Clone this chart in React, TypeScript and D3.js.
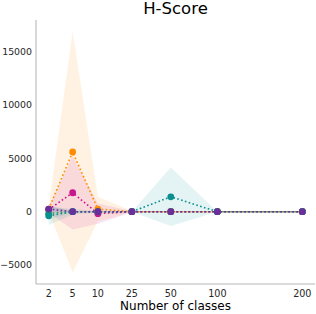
import * as d3 from "d3";

const classes = [2, 5, 10, 25, 50, 100, 200];
const classLabels = ["2", "5", "10", "25", "50", "100", "200"];
// relative spacing of the class ticks along the axis (0 = first, 1 = last)
const classSpacing = [0, 0.0945, 0.194, 0.328, 0.4815, 0.665, 1];

const seriesNames = ["orange", "magenta", "green", "teal", "purple"];
const seriesColors = ["#ff8c00", "#c8168c", "#2a9a6a", "#0b8f8f", "#6a2f9a"];

const orangeMean = [250, 5600, 250, 0, 0, 0, 0];
const orangeStd = [250, 11300, 1150, 60, 0, 0, 0];
const magentaMean = [200, 1780, -180, 0, 0, 0, 0];
const magentaStd = [300, 3450, 950, 60, 0, 0, 0];
const greenMean = [-150, 0, 0, 0, 0, 0, 0];
const greenStd = [600, 100, 50, 0, 0, 0, 0];
const tealMean = [-380, 0, 0, 0, 1400, 0, 0];
const tealStd = [870, 250, 100, 0, 2750, 0, 0];
const purpleMean = [250, 0, 0, 0, 0, 0, 0];
const purpleStd = [300, 50, 50, 0, 0, 0, 0];

const means = [orangeMean, magentaMean, greenMean, tealMean, purpleMean];
const stds = [orangeStd, magentaStd, greenStd, tealStd, purpleStd];

const yTicks = [-5000, 0, 5000, 10000, 15000];

const W = 316;
const H = 314;
const margin = { top: 20, right: 1, bottom: 30, left: 36 };

export default function App() {
  const innerW = W - margin.left - margin.right;
  const innerH = H - margin.top - margin.bottom;
  const pad = innerW * 0.05 / 1.1;
  const span = innerW - 2 * pad;

  const x = d3
    .scaleLinear()
    .domain(classes)
    .range(classSpacing.map((f) => pad + f * span));
  const y = d3.scaleLinear().domain([-6780, 17980]).range([innerH, 0]);

  const line = d3
    .line<number>()
    .x((_, i) => x(classes[i]))
    .y((d) => y(d));

  const area = (m: number[], s: number[]) =>
    d3
      .area<number>()
      .x((_, i) => x(classes[i]))
      .y0((d, i) => y(d - s[i]))
      .y1((d, i) => y(d + s[i]))(m) || "";

  const font = "DejaVu Sans, sans-serif";

  return (
    <svg
      width={W}
      height={H}
      style={{ position: "absolute", left: 0, top: 0, background: "#fff" }}
      fontFamily={font}
    >
      <text x={margin.left + innerW / 2} y={14} textAnchor="middle" fontSize={16.5} fill="#000">
        H-Score
      </text>
      <g transform={`translate(${margin.left},${margin.top})`}>
        {means.map((m, k) => (
          <path key={"a" + k} d={area(m, stds[k])} fill={seriesColors[k]} fillOpacity={0.11} stroke="none" />
        ))}
        {means.map((m, k) => (
          <path
            key={"l" + k}
            d={line(m) || ""}
            fill="none"
            stroke={seriesColors[k]}
            strokeWidth={1.6}
            strokeDasharray="1.6,2.4"
          />
        ))}
        {means.map((m, k) =>
          m.map((v, i) => (
            <circle key={seriesNames[k] + i} cx={x(classes[i])} cy={y(v)} r={3.4} fill={seriesColors[k]} />
          ))
        )}
        <line x1={0} x2={0} y1={0} y2={innerH} stroke="#b8b8b8" strokeWidth={1.1} />
        <line x1={0} x2={innerW} y1={innerH} y2={innerH} stroke="#b8b8b8" strokeWidth={1.1} />
        {yTicks.map((t) => (
          <text key={t} x={-4} y={y(t)} dy="0.35em" textAnchor="end" fontSize={9.4} fill="#262626">
            {t < 0 ? "\u2212" + Math.abs(t) : t}
          </text>
        ))}
        {classes.map((c, i) => (
          <text key={c} x={x(c)} y={innerH + 12.5} textAnchor="middle" fontSize={9.6} fill="#262626">
            {classLabels[i]}
          </text>
        ))}
        <text x={innerW / 2} y={innerH + 26} textAnchor="middle" fontSize={12} fill="#000">
          Number of classes
        </text>
      </g>
    </svg>
  );
}
